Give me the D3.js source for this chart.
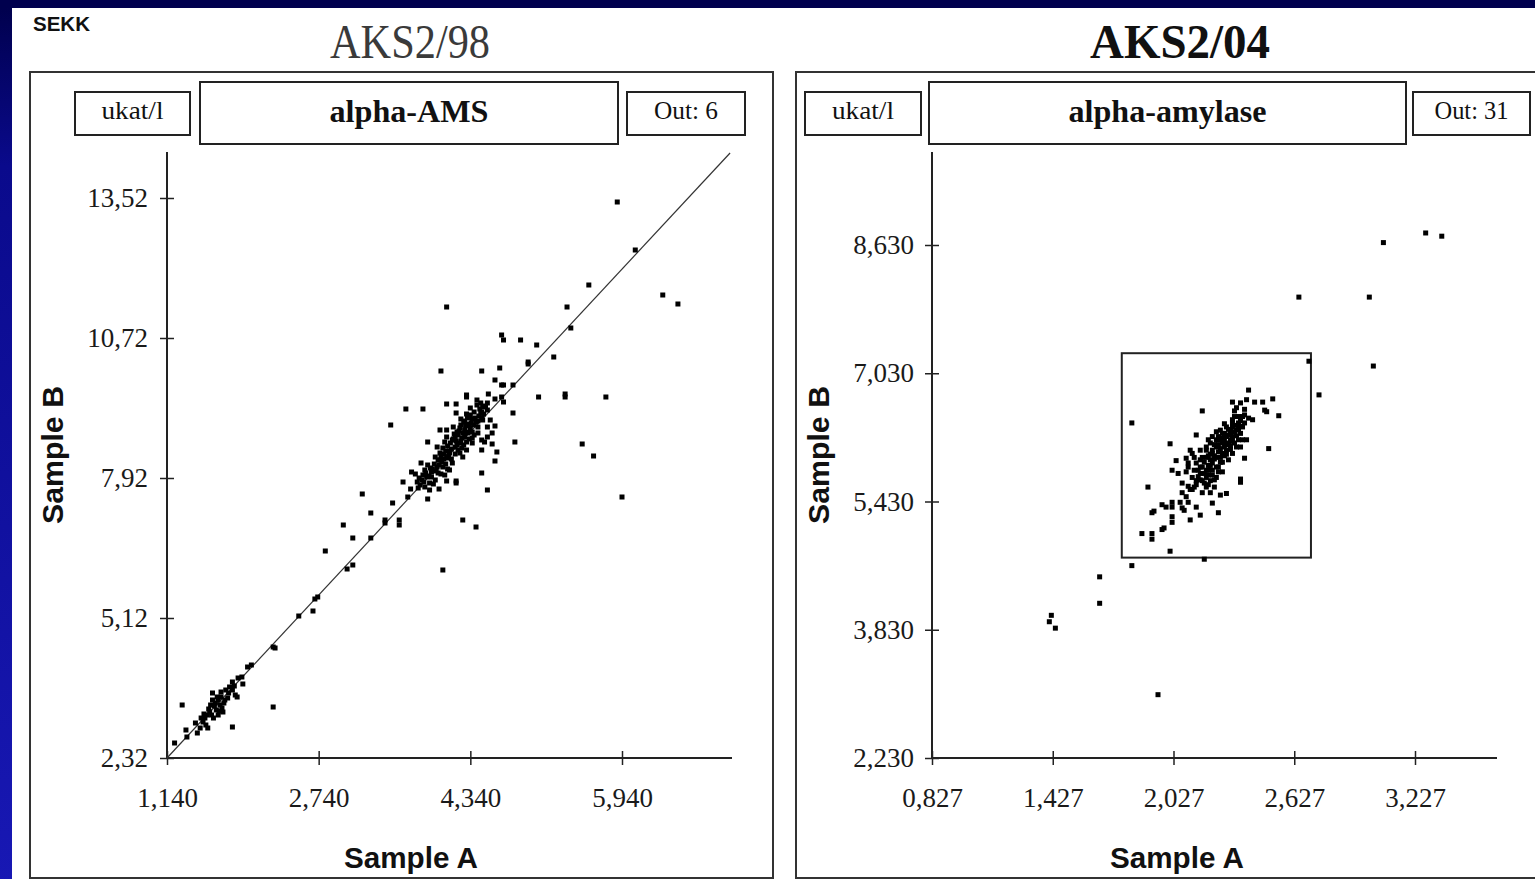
<!DOCTYPE html>
<html>
<head>
<meta charset="utf-8">
<script src="https://cdn.jsdelivr.net/npm/d3@7/dist/d3.min.js"></script>
<style>
body{margin:0;background:#00004e;overflow:hidden}
svg{display:block}
.tick text{font-family:"Liberation Serif","Times New Roman",serif;font-size:27px;fill:#1a1a1a}
</style>
</head>
<body>
<svg id="chart"></svg>
<script>
// sample A / sample B pairs, AKS2/98 round (alpha-AMS)
let ams98 = [
  [5.89,13.44],[6.08,12.48],[6.37,11.58],[6.53,11.40],[5.59,11.78],[5.36,11.34],[5.40,10.92],[4.67,10.78],[4.69,10.68],[4.87,10.68],
  [5.04,10.58],[5.22,10.34],[4.95,10.24],[4.95,10.20],[4.46,10.06],[4.65,10.12],[4.09,11.34],[4.03,10.06],[4.60,9.88],[4.67,9.78],
  [4.69,9.78],[4.79,9.78],[4.53,9.60],[4.60,9.50],[4.67,9.54],[4.69,9.44],[5.06,9.54],[5.34,9.60],[5.34,9.54],[5.77,9.54],
  [4.79,9.22],[4.30,9.58],[4.30,9.54],[3.66,9.30],[3.84,9.30],[4.09,9.40],[4.19,9.40],[4.19,9.22],[3.50,8.98],[4.60,8.96],
  [4.81,8.64],[5.52,8.60],[5.64,8.36],[4.60,8.26],[4.46,8.02],[4.52,7.68],[5.94,7.54],[3.89,8.64],[3.82,8.22],[3.63,7.84],
  [3.52,7.42],[3.29,7.22],[3.20,7.60],[3.00,6.98],[3.10,6.72],[3.29,6.72],[3.44,7.08],[3.44,7.02],[3.59,7.08],[3.59,6.98],
  [4.26,7.08],[4.40,6.94],[3.89,7.50],[4.01,7.70],[4.09,7.86],[4.19,7.86],[4.19,7.82],[3.71,7.70],[3.68,7.54],[4.05,6.08],
  [4.41,9.38],[4.47,9.34],[4.34,9.18],[4.45,9.22],[4.52,9.28],[4.28,9.04],[4.35,9.02],[4.42,8.94],[4.47,9.08],[4.36,8.84],
  [4.31,8.82],[4.23,8.92],[4.16,8.94],[4.09,8.88],[4.02,8.88],[4.09,8.74],[4.18,8.74],[4.25,8.72],[4.30,8.64],[4.36,8.62],
  [4.46,8.68],[4.52,8.74],[4.49,8.64],[4.57,8.60],[4.62,8.44],[4.46,8.48],[4.23,8.62],[4.18,8.54],[4.23,8.42],[4.12,8.42],
  [4.05,8.52],[3.99,8.54],[4.02,8.42],[3.97,8.34],[4.02,8.28],[4.09,8.32],[4.15,8.22],[4.05,8.14],[3.99,8.14],[3.93,8.04],
  [4.00,8.02],[3.93,7.94],[3.88,7.94],[3.83,7.88],[3.81,7.78],[3.86,7.74],[3.91,7.82],[3.97,7.88],[3.76,8.00],[3.72,8.04],
  [3.79,7.72],[3.91,7.68],[4.12,8.08],[4.26,8.34],[4.30,8.48],[4.36,8.72],[4.57,8.82],[4.52,8.94],[4.41,9.48],[4.45,9.42],
  [4.52,9.42],[4.34,9.32],[3.86,8.08],[4.07,8.64],[4.20,8.84],[4.28,8.88],[4.39,9.12],[4.55,9.08],[4.15,8.68],[3.89,8.18],
  [4.07,7.98],[3.78,7.84],
  [3.80,7.92],[3.84,7.98],[3.87,8.02],[3.90,7.96],[3.94,8.10],[3.96,8.20],[3.98,8.06],[4.01,8.18],[4.03,8.34],[4.04,8.24],
  [4.06,8.40],[4.08,8.46],[4.10,8.56],[4.11,8.36],[4.13,8.62],[4.14,8.50],[4.16,8.70],[4.17,8.80],[4.19,8.66],[4.21,8.78],
  [4.22,8.86],[4.24,8.98],[4.26,8.82],[4.27,9.06],[4.29,8.96],[4.31,9.12],[4.33,9.00],[4.36,9.10],[4.38,9.24],[4.40,9.04],
  [4.43,9.16],[4.44,9.30],[4.48,9.20],[4.50,9.36],[4.38,8.78],[4.33,8.70],[4.27,8.58],[4.21,8.48],[4.14,8.30],[4.08,8.20],
  [3.95,7.80],[3.85,7.84],
  [4.20,8.58],[4.24,8.66],[4.28,8.74],[4.32,8.84],[4.34,8.92],[4.38,8.98],[4.42,9.06],[4.46,9.12],[4.12,8.46],[4.06,8.30],
  [4.00,8.28],[3.92,8.12],[4.25,8.52],[4.18,8.40],[4.30,9.20],[4.24,9.10],[4.46,9.24],[4.42,8.82],[4.10,8.10],[4.03,8.00],
  [2.81,6.46],[3.04,6.10],[3.10,6.18],[2.70,5.50],[2.73,5.54],[2.68,5.26],[2.53,5.16],[2.26,4.54],[2.28,4.52],[2.03,4.18],
  [1.99,4.14],[1.94,3.80],[1.89,3.92],[1.93,3.94],[1.83,3.84],[1.83,3.68],[1.86,3.58],[1.88,3.54],[1.71,3.64],[1.62,3.62],
  [2.26,3.34],[1.83,2.94],[1.30,3.38],[1.44,3.02],[1.46,2.82],[1.34,2.88],[1.35,2.74],[1.22,2.62],
  [1.62,3.48],[1.65,3.42],[1.68,3.48],[1.70,3.38],[1.72,3.32],[1.66,3.28],[1.59,3.24],[1.56,3.18],[1.54,3.12],[1.52,3.04],
  [1.55,2.98],[1.57,2.92],[1.73,3.24],[1.75,3.48],[1.78,3.52],[1.63,3.12],[1.68,3.18],[1.49,2.92],[1.60,3.38],[1.76,3.68],
  [1.71,3.54],[1.50,3.12],
  [1.58,3.30],[1.64,3.36],[1.67,3.54],[1.74,3.42],[1.79,3.62],[1.61,3.18],[1.53,3.20],[1.69,3.26],[1.80,3.74],[1.85,3.76]
]
// AKS2/04 round (alpha-amylase)
let amy04 = [
  [3.28,8.78],[3.36,8.74],[3.07,8.66],[2.65,7.98],[3.00,7.98],[3.02,7.12],[2.75,6.76],[2.70,7.18],[1.42,4.01],[1.41,3.93],
  [1.44,3.85],[1.66,4.49],[1.66,4.16],[1.82,4.63],[1.95,3.02],[2.18,4.71],[2.01,4.81],[1.82,6.41],[2.55,6.50],[2.50,6.09],
  [1.87,5.03],[1.92,4.96],[1.92,5.03],[1.97,5.08],[1.98,5.10],[1.90,5.61],[1.92,5.29],[1.93,5.31],[1.97,5.39],[1.99,5.36],
  [2.02,5.42],[2.02,5.36],[2.02,5.24],[2.02,5.17],[2.06,5.42],[2.07,5.35],[2.08,5.32],[2.10,5.42],[2.11,5.20],[2.14,5.36],
  [2.16,5.26],[2.22,5.41],[2.25,5.29],[2.07,5.54],[2.11,5.58],[2.13,5.61],[2.09,5.49],[2.17,5.54],[2.20,5.64],[2.26,5.51],
  [2.29,5.53],[2.36,5.67],[2.01,6.15],[2.17,6.56],[2.14,6.26],[2.04,5.94],[2.02,5.82],[2.05,5.78],[2.09,5.97],[2.10,5.91],
  [2.10,5.86],[2.32,6.67],[2.36,6.66],[2.39,6.70],[2.40,6.82],[2.43,6.67],[2.47,6.67],[2.52,6.71],[2.48,6.57],[2.49,6.55],
  [2.38,6.51],[2.40,6.47],[2.42,6.45],[2.39,6.20],[2.38,5.97],[2.36,5.71],[2.11,6.07],[2.12,6.03],
  [2.16,6.07],[2.17,5.98],[2.19,6.07],[2.21,6.16],[2.22,6.03],[2.24,6.11],[2.26,6.20],[2.27,6.16],[2.29,6.24],[2.31,6.32],
  [2.32,6.41],[2.32,6.45],[2.33,6.49],[2.34,6.32],[2.36,6.28],[2.37,6.20],[2.29,6.07],[2.26,5.98],[2.22,5.91],[2.19,5.82],
  [2.16,5.78],[2.19,5.73],[2.22,5.82],[2.25,5.86],[2.21,5.95],[2.17,5.86],[2.14,5.91],[2.15,5.82],[2.17,5.69],[2.21,5.69],
  [2.24,5.73],[2.27,5.80],[2.30,5.95],[2.32,6.03],[2.34,6.11],[2.35,6.20],[2.29,6.36],[2.27,6.28],[2.25,6.24],[2.24,6.20],
  [2.20,6.20],[2.19,6.11],[2.22,6.07],[2.24,5.98],[2.27,6.03],[2.28,6.11],[2.31,6.20],[2.32,6.24],[2.30,6.16],[2.26,6.32],
  [2.32,6.36],[2.35,6.41],[2.37,6.36],[2.38,6.41],[2.37,6.49],[2.36,6.11],[2.16,5.95],[2.13,5.98],[2.19,5.61],[2.23,5.61],
  [2.21,5.54],[2.14,5.69],[2.12,5.73],[2.09,5.80],[2.07,5.66],[2.12,5.58],
  [2.18,5.78],[2.20,5.88],[2.23,5.96],[2.25,6.05],[2.28,6.00],[2.29,6.14],[2.31,6.28],[2.33,6.30],[2.34,6.38],[2.36,6.44],
  [2.30,6.26],[2.27,6.22],[2.23,6.14],[2.21,6.02],[2.18,5.92],[2.15,5.74],[2.13,5.82],[2.20,5.76],[2.24,5.86],[2.26,5.92],
  [2.28,6.28],[2.33,6.16],[2.35,6.34],[2.31,6.08],[2.19,5.98],[2.16,5.86],[2.22,6.24],[2.25,6.14],[2.14,5.64],[2.10,5.62],
  [2.21,5.88],[2.23,6.00],[2.26,6.09],[2.28,6.18],[2.30,6.33],[2.32,6.18],[2.34,6.25],[2.36,6.37],[2.35,6.49],[2.33,6.56],
  [2.31,6.12],[2.29,6.02],[2.27,5.92],[2.25,5.80],[2.23,5.70],[2.20,5.82],[2.18,5.66],[2.16,5.70],[2.20,6.00],[2.24,6.30],
  [2.28,6.40],[2.38,6.58],[2.34,6.60],[2.22,5.76]
]

let ams98XTicks = [1.14, 2.74, 4.34, 5.94]
let ams98YTicks = [2.32, 5.12, 7.92, 10.72, 13.52]
let amy04XTicks = [0.827, 1.427, 2.027, 2.627, 3.227]
let amy04YTicks = [2.23, 3.83, 5.43, 7.03, 8.63]
let ams98Line = [[1.14, 2.32], [7.08, 14.42]]   // comparison line
let amy04Box = [1.77, 2.71, 4.73, 7.28]        // x0, x1, y0, y1

let width = 1535, height = 879
let svg = d3.select('#chart').attr('width', width).attr('height', height)

let grad = svg.append('defs').append('linearGradient')
    .attr('id', 'edge').attr('x1', 0).attr('y1', 0).attr('x2', 0).attr('y2', 1)
grad.append('stop').attr('offset', '0%').attr('stop-color', '#00004e')
grad.append('stop').attr('offset', '18%').attr('stop-color', '#0a0a8c')
grad.append('stop').attr('offset', '100%').attr('stop-color', '#1818b4')

svg.append('rect').attr('width', width).attr('height', height).attr('fill', '#00004e')
svg.append('rect').attr('x', 0).attr('y', 8).attr('width', 12).attr('height', height).attr('fill', 'url(#edge)')
svg.append('rect').attr('x', 12).attr('y', 8).attr('width', width - 12).attr('height', height - 8).attr('fill', '#fff')

svg.append('text').text('SEKK')
    .attr('x', 33).attr('y', 31)
    .attr('textLength', 57).attr('lengthAdjust', 'spacingAndGlyphs')
    .style('font', 'bold 21px "Liberation Sans", Arial, sans-serif').attr('fill', '#111')

let panels = [
  {title: 'AKS2/98', bold: false, titleX: 410, titleLen: 160, frame: [30, 773], unitBox: [75, 190], nameBox: [200, 618], outBox: [627, 745],
   analyte: 'alpha-AMS', nameLen: 159, out: 'Out: 6', outLen: 64, data: ams98, xTicks: ams98XTicks, yTicks: ams98YTicks,
   xRange: [167, 622], yRange: [758, 198], xEnd: 732, fmtX: '.3f', fmtY: '.2f', pad: 12, line: ams98Line, box: null,
   labelX: 411, labelY: 52},
  {title: 'AKS2/04', bold: true, titleX: 1180, titleLen: 180, frame: [796, 1545], unitBox: [805, 921], nameBox: [929, 1406], outBox: [1413, 1530],
   analyte: 'alpha-amylase', nameLen: 198, out: 'Out: 31', outLen: 74, data: amy04, xTicks: amy04XTicks, yTicks: amy04YTicks,
   xRange: [932, 1415], yRange: [758, 245], xEnd: 1497, fmtX: '.3f', fmtY: '.3f', pad: 11, line: null, box: amy04Box,
   labelX: 1177, labelY: 818}
]

panels.forEach(makePanel)

function comma(f){
    let fmt = d3.format(f)
    return d => fmt(d).replace('.', ',')
}

function makePanel(p){
    let g = svg.append('g')
    let serif = '"Liberation Serif", "Times New Roman", serif'

    g.append('text').text(p.title)
        .attr('x', p.titleX).attr('y', 58).attr('text-anchor', 'middle')
        .attr('textLength', p.titleLen).attr('lengthAdjust', 'spacingAndGlyphs')
        .style('font-family', serif).style('font-size', '48px')
        .style('font-weight', p.bold ? 'bold' : 'normal')
        .attr('fill', p.bold ? '#111' : '#3a3a3a')

    g.append('rect')
        .attr('x', p.frame[0]).attr('y', 72)
        .attr('width', p.frame[1] - p.frame[0]).attr('height', 806)
        .attr('fill', 'none').attr('stroke', '#333').attr('stroke-width', 2)

    let boxes = [
        {b: p.unitBox, y0: 92, y1: 135, t: 'ukat/l', len: 62, size: 25, bold: false},
        {b: p.nameBox, y0: 82, y1: 144, t: p.analyte, len: p.nameLen, size: 32, bold: true},
        {b: p.outBox, y0: 92, y1: 135, t: p.out, len: p.outLen, size: 25, bold: false}
    ]
    boxes.forEach(d => {
        g.append('rect')
            .attr('x', d.b[0]).attr('y', d.y0)
            .attr('width', d.b[1] - d.b[0]).attr('height', d.y1 - d.y0)
            .attr('fill', 'none').attr('stroke', '#222').attr('stroke-width', 2)
        g.append('text').text(d.t)
            .attr('x', (d.b[0] + d.b[1]) / 2).attr('y', d.bold ? 122 : 119)
            .attr('text-anchor', 'middle')
            .attr('textLength', d.len).attr('lengthAdjust', 'spacingAndGlyphs')
            .style('font-family', serif).style('font-size', d.size + 'px')
            .style('font-weight', d.bold ? 'bold' : 'normal').attr('fill', '#111')
    })

    let x = d3.scaleLinear().domain(d3.extent(p.xTicks)).range(p.xRange)
    let y = d3.scaleLinear().domain(d3.extent(p.yTicks)).range(p.yRange)
    let x0 = p.xRange[0], y0 = p.yRange[0]

    let yAxis = g.append('g')
        .attr('transform', `translate(${x0},0)`)
        .call(d3.axisLeft(y).tickValues(p.yTicks).tickFormat(comma(p.fmtY))
            .tickSizeOuter(0).tickSizeInner(7).tickPadding(p.pad))
    yAxis.select('.domain').remove()
    yAxis.selectAll('.tick line').attr('x1', 7).attr('stroke', '#222').attr('stroke-width', 1.5)

    let xAxis = g.append('g')
        .attr('transform', `translate(0,${y0})`)
        .call(d3.axisBottom(x).tickValues(p.xTicks).tickFormat(comma(p.fmtX))
            .tickSizeOuter(0).tickSizeInner(7).tickPadding(23))
    xAxis.select('.domain').remove()
    xAxis.selectAll('.tick line').attr('y1', -7).attr('stroke', '#222').attr('stroke-width', 1.5)

    g.append('line').attr('x1', x0).attr('x2', x0).attr('y1', y0).attr('y2', 152)
        .attr('stroke', '#222').attr('stroke-width', 2)
    g.append('line').attr('x1', x0).attr('x2', p.xEnd).attr('y1', y0).attr('y2', y0)
        .attr('stroke', '#222').attr('stroke-width', 2)

    if(p.line){
        g.append('path')
            .attr('d', d3.line().x(d => x(d[0])).y(d => y(d[1]))(p.line))
            .attr('fill', 'none').attr('stroke', '#333').attr('stroke-width', 1.2)
    }
    if(p.box){
        g.append('rect')
            .attr('x', x(p.box[0])).attr('y', y(p.box[3]))
            .attr('width', x(p.box[1]) - x(p.box[0])).attr('height', y(p.box[2]) - y(p.box[3]))
            .attr('fill', 'none').attr('stroke', '#222').attr('stroke-width', 2)
    }

    let s = 5
    g.selectAll('.pt').data(p.data).enter()
        .append('rect').classed('pt', true)
        .attr('x', d => x(d[0]) - s / 2).attr('y', d => y(d[1]) - s / 2)
        .attr('width', s).attr('height', s).attr('fill', '#000')

    let sans = '"Liberation Sans", Arial, sans-serif'
    g.append('text').text('Sample A')
        .attr('x', p.labelX).attr('y', 868).attr('text-anchor', 'middle')
        .attr('textLength', 134).attr('lengthAdjust', 'spacingAndGlyphs')
        .style('font', `bold 30px ${sans}`).attr('fill', '#111')
    g.append('text').text('Sample B')
        .attr('transform', `translate(${p.labelY + 11},455) rotate(-90)`)
        .attr('text-anchor', 'middle')
        .attr('textLength', 138).attr('lengthAdjust', 'spacingAndGlyphs')
        .style('font', `bold 30px ${sans}`).attr('fill', '#111')
}
</script>
</body>
</html>
